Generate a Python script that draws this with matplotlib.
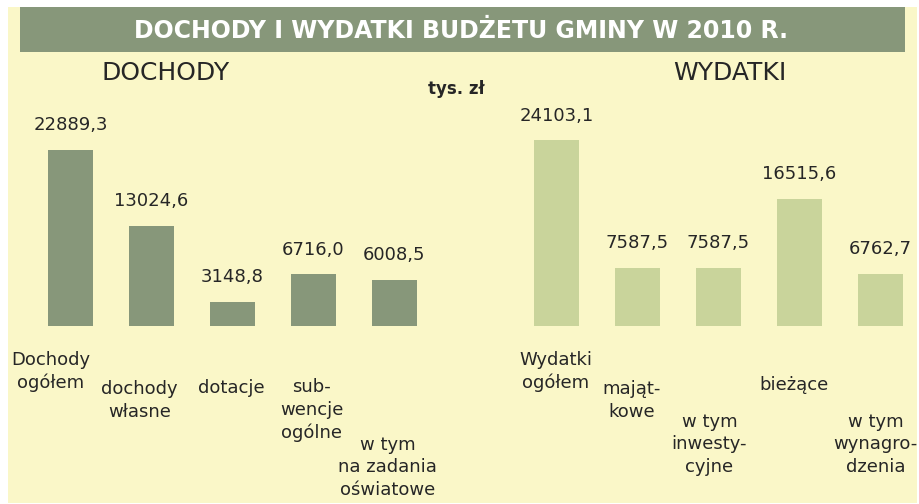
import matplotlib
matplotlib.use('Agg')
import matplotlib.pyplot as plt
from matplotlib.patches import Rectangle

# dane (tys. zł)
dochody_labels = ['Dochody\nogółem', 'dochody\nwłasne', 'dotacje',
                  'sub-\nwencje\nogólne', 'w tym\nna zadania\noświatowe']
dochody_values = [22889.3, 13024.6, 3148.8, 6716.0, 6008.5]
wydatki_labels = ['Wydatki\nogółem', 'mająt-\nkowe', 'w tym\ninwesty-\ncyjne',
                  'bieżące', 'w tym\nwynagro-\ndzenia']
wydatki_values = [24103.1, 7587.5, 7587.5, 16515.6, 6762.7]

W, H = 920, 504
yellow = '#faf7c8'
green_dark = '#87977a'
green_light = '#c9d49b'
txt = '#262626'

plt.rcParams['font.family'] = ['DejaVu Sans']

fig = plt.figure(figsize=(W / 100, H / 100), dpi=100)
fig.patch.set_facecolor('white')


def fx(px):
    return px / W


def fy(py):
    return 1 - py / H


# tło i pasek tytułu
fig.patches.append(Rectangle((fx(8), fy(503)), fx(909), 496 / H,
                             transform=fig.transFigure, facecolor=yellow,
                             edgecolor='none', zorder=-2))
fig.patches.append(Rectangle((fx(20), fy(52)), fx(885), 45 / H,
                             transform=fig.transFigure, facecolor=green_dark,
                             edgecolor='none', zorder=-1))
fig.text(fx(461.5), fy(38), 'DOCHODY I WYDATKI BUDŻETU GMINY W 2010 R.',
         color='white', fontsize=17, fontweight='bold', ha='center', va='baseline')
fig.text(fx(166), fy(80), 'DOCHODY', color=txt, fontsize=18, ha='center', va='baseline')
fig.text(fx(730), fy(80), 'WYDATKI', color=txt, fontsize=18, ha='center', va='baseline')
fig.text(fx(456), fy(94), 'tys. zł', color=txt, fontsize=12, fontweight='bold',
         ha='center', va='baseline')

# osie: 1 jednostka x = 81 px, środek pierwszego słupka na 70.5 px, podstawa na 326 px
ax = fig.add_axes([0, 0, 1, 1])
ax.patch.set_alpha(0)
ax.axis('off')
unit_px = 81
x0_px = 70.5
base_px = 326
val_per_px = 1 / 0.0077
ax.set_xlim(-x0_px / unit_px, (W - x0_px) / unit_px)
ax.set_ylim(-(H - base_px) * val_per_px, base_px * val_per_px)

pos_d = list(range(len(dochody_values)))
pos_w = [p + len(dochody_values) + 1 for p in range(len(wydatki_values))]
bw = 45 / unit_px

ax.bar(pos_d, dochody_values, width=bw, color=green_dark, zorder=2)
ax.bar(pos_w, wydatki_values, width=bw, color=green_light, zorder=2)


def fmt(v):
    return f'{v:.1f}'.replace('.', ',')


for p, v in zip(pos_d + pos_w, dochody_values + wydatki_values):
    ax.annotate(fmt(v), (p, v), xytext=(0, 17.6), textcoords='offset points',
                ha='center', va='center', fontsize=13, color=txt)

# podpisy kategorii: przesunięcie x (px) względem środka słupka, linia bazowa 1. wiersza (px)
label_dx = [-20, -12, -1, -2, -7, -1, -6, -9, -5, -5]
label_base = [364, 393, 393, 390, 447, 364, 393, 424, 390, 424]
line_px = 24
for p, lab, dx, yb in zip(pos_d + pos_w, dochody_labels + wydatki_labels,
                          label_dx, label_base):
    # va='baseline' odnosi się do ostatniego wiersza
    last = yb + (lab.count('\n')) * line_px
    ax.text(p + dx / unit_px, fy(last), lab, transform=ax.get_xaxis_transform(),
            ha='center', va='baseline', multialignment='center',
            fontsize=13, color=txt, linespacing=line_px / (13 * 100 / 72))

fig.savefig('out.png', dpi=100, facecolor=fig.get_facecolor())
